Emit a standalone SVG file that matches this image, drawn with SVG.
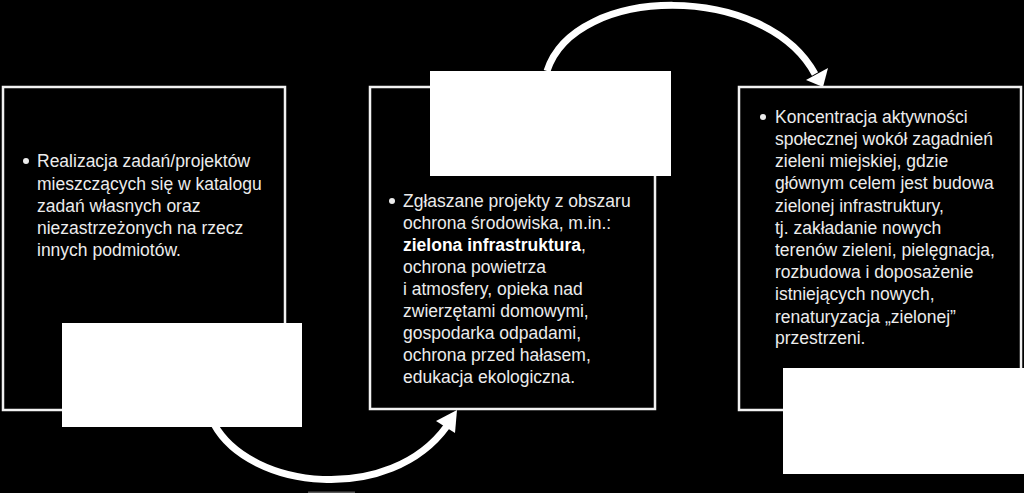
<svg xmlns="http://www.w3.org/2000/svg" width="1024" height="493" viewBox="0 0 1024 493">
<style>
.frame{fill:none;stroke:#f2f2f2;stroke-width:2.5}
.blank{fill:#ffffff}
.t{font-family:"Liberation Sans",Arial,sans-serif;font-size:17.5px;fill:#ececec}
.b{font-weight:bold;fill:#ffffff}
.arc{fill:none;stroke:#ffffff;stroke-width:7}
.head{fill:#ffffff}
</style>
<rect width="1024" height="493" fill="#000000"/>
<g id="connectors">
<path class="arc" d="M214,424 C250,490 390,505 447,426"/>
<polygon class="head" points="457,410 436,421 455,433"/>
<path class="arc" d="M547,71 C575,-16 765,-18 815,74"/>
<polygon class="head" points="823,87 806,80 828,68"/>
</g>
<g id="node1">
<rect class="frame" x="3" y="87" width="282" height="323"/>
<rect class="blank" x="62" y="323" width="240" height="104"/>
<circle cx="26" cy="161" r="3" fill="#ececec"/>
<text class="t" x="37" y="167">Realizacja zadań/projektów</text>
<text class="t" x="37" y="190">mieszczących się w katalogu</text>
<text class="t" x="37" y="212">zadań własnych oraz</text>
<text class="t" x="37" y="234">niezastrzeżonych na rzecz</text>
<text class="t" x="37" y="256">innych podmiotów.</text>
</g>
<g id="node2">
<rect class="frame" x="370" y="87" width="285" height="322"/>
<rect class="blank" x="430" y="71" width="241" height="105"/>
<circle cx="392" cy="201" r="3" fill="#ececec"/>
<text class="t" x="403" y="207">Zgłaszane projekty z obszaru</text>
<text class="t" x="403" y="229">ochrona środowiska, m.in.:</text>
<text class="t" x="403" y="251"><tspan class="b">zielona infrastruktura</tspan>,</text>
<text class="t" x="403" y="273">ochrona powietrza</text>
<text class="t" x="403" y="295">i atmosfery, opieka nad</text>
<text class="t" x="403" y="317">zwierzętami domowymi,</text>
<text class="t" x="403" y="339">gospodarka odpadami,</text>
<text class="t" x="403" y="361">ochrona przed hałasem,</text>
<text class="t" x="403" y="383">edukacja ekologiczna.</text>
</g>
<g id="node3">
<rect class="frame" x="739" y="87" width="282" height="323"/>
<rect class="blank" x="783" y="368" width="241" height="106"/>
<circle cx="763" cy="117" r="3" fill="#ececec"/>
<text class="t" x="775" y="123">Koncentracja aktywności</text>
<text class="t" x="775" y="145">społecznej wokół zagadnień</text>
<text class="t" x="775" y="167">zieleni miejskiej, gdzie</text>
<text class="t" x="775" y="189">głównym celem jest budowa</text>
<text class="t" x="775" y="212">zielonej infrastruktury,</text>
<text class="t" x="775" y="234">tj. zakładanie nowych</text>
<text class="t" x="775" y="256">terenów zieleni, pielęgnacja,</text>
<text class="t" x="775" y="278">rozbudowa i doposażenie</text>
<text class="t" x="775" y="300">istniejących nowych,</text>
<text class="t" x="775" y="323">renaturyzacja „zielonej”</text>
<text class="t" x="775" y="344">przestrzeni.</text>
</g>
<rect x="308" y="491.5" width="47" height="1.5" fill="#5a5a5a"/>
</svg>
